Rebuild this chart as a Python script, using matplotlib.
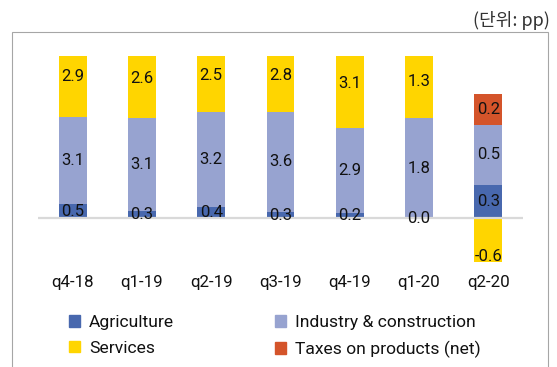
import numpy as np
import matplotlib.pyplot as plt
from matplotlib.patches import Patch, Rectangle

plt.rcParams['font.family'] = ['Roboto', 'DejaVu Sans']

quarters = ["q4-18", "q1-19", "q2-19", "q3-19", "q4-19", "q1-20", "q2-20"]
# segment heights as drawn in the source chart (axis clips the tall ones)
agriculture = [0.57, 0.31, 0.45, 0.27, 0.23, 0.0, 1.35]
industry = [3.52, 3.73, 3.84, 4.00, 3.40, 4.02, 2.41]
services = [3.21, 3.16, 2.95, 2.97, 3.59, 2.94, -3.07]
taxes = [0, 0, 0, 0, 0, 0, 1.24]
# printed data labels
lab_agri = ["0.5", "0.3", "0.4", "0.3", "0.2", "0.0", "0.3"]
lab_ind = ["3.1", "3.1", "3.2", "3.6", "2.9", "1.8", "0.5"]
lab_serv = ["2.9", "2.6", "2.5", "2.8", "3.1", "1.3", "-0.6"]
lab_tax = ["", "", "", "", "", "", "0.2"]

c_agri = "#4868ae"
c_ind = "#97a3d0"
c_serv = "#ffd500"
c_tax = "#d4542a"

W, H = 557, 367
fig = plt.figure(figsize=(W / 100, H / 100), dpi=100)
ax = fig.add_axes([38 / W, (H - 262) / H, 485 / W, 206 / H])

x = np.arange(len(quarters))
agri = np.array(agriculture)
ind = np.array(industry)
serv = np.array(services)
tax = np.array(taxes)

b_ind = agri
b_serv = np.where(serv >= 0, agri + ind, 0)
b_tax = agri + ind + np.maximum(serv, 0)

bw = 0.4
ax.bar(x, agri, bw, color=c_agri, label="Agriculture")
ax.bar(x, ind, bw, bottom=b_ind, color=c_ind, label="Industry & construction")
ax.bar(x, serv, bw, bottom=b_serv, color=c_serv, label="Services")
ax.bar(x, tax, bw, bottom=b_tax, color=c_tax, label="Taxes on products (net)")

ax.axhline(0, color="#d9d9d9", lw=1.6, zorder=3)

for i in range(len(quarters)):
    for val, bot, lab in [(agri[i], 0, lab_agri[i]), (ind[i], b_ind[i], lab_ind[i]),
                          (serv[i], b_serv[i], lab_serv[i]), (tax[i], b_tax[i], lab_tax[i])]:
        if lab:
            ax.text(x[i], bot + val / 2, lab, ha="center", va="center",
                    fontsize=12, color="#111111", zorder=4)

ax.set_xlim(-0.5, len(quarters) - 0.5)
ax.set_ylim(-1.75, 6.53)
ax.set_xticks(x)
ax.set_xticklabels(quarters, fontsize=12.2, color="#111111")
ax.tick_params(axis="x", length=0, pad=9)
ax.set_yticks([])
for s in ax.spines.values():
    s.set_visible(False)

handles = [Patch(color=c_agri, label="Agriculture"),
           Patch(color=c_serv, label="Services"),
           Patch(color=c_ind, label="Industry & construction"),
           Patch(color=c_tax, label="Taxes on products (net)")]
fig.legend(handles=handles, ncol=2, loc="center left",
           bbox_to_anchor=(69 / W, (H - 336.5) / H), frameon=False,
           fontsize=12.6, handlelength=0.63, handleheight=0.63,
           handletextpad=0.52, columnspacing=5.75, labelspacing=0.62,
           borderpad=0, borderaxespad=0, labelcolor="#111111")

fig.patches.append(Rectangle((12 / W, -0.1), 536 / W, (H - 32.3) / H + 0.1,
                             transform=fig.transFigure, fill=False,
                             edgecolor="#a6a6a6", lw=0.8))
fig.text(550 / W, (H - 20) / H, "(단위: pp)", ha="right", va="center",
         fontsize=13, color="#333333", family=["Noto Sans CJK KR", "DejaVu Sans"])

fig.savefig("out.png", dpi=100)
